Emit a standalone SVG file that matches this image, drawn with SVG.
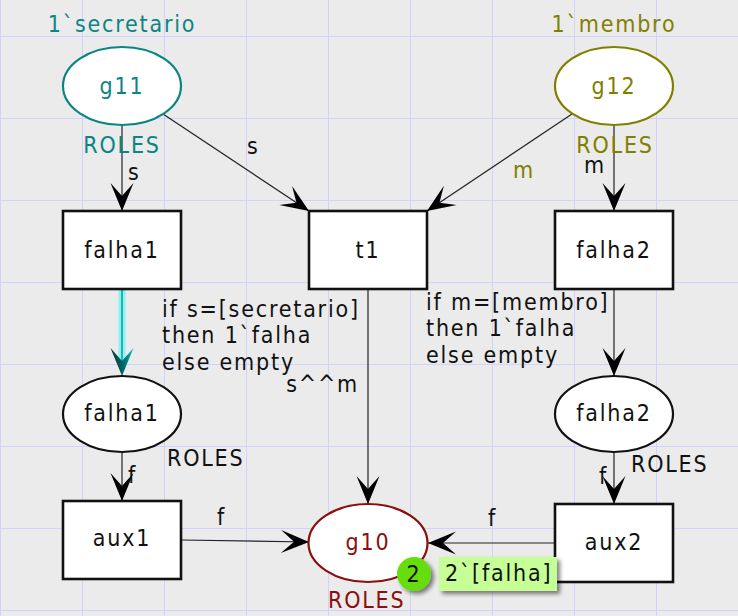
<svg xmlns="http://www.w3.org/2000/svg" width="738" height="616" viewBox="0 0 738 616">
<style>
text{font-family:"DejaVu Sans Condensed","DejaVu Sans","Liberation Sans",sans-serif;font-stretch:condensed;font-size:23px;letter-spacing:1.8px;fill:#111}
.m{text-anchor:middle}
.grid line{stroke:#d2d2ff;stroke-width:1}
.place{fill:#fff;stroke-width:2.2}
.trans{fill:#fff;stroke:#111;stroke-width:2.6}
.arc{stroke:#222;stroke-width:1.2;fill:none;marker-end:url(#ah)}
.teal{fill:#0a8585}.olive{fill:#808000}.red{fill:#8a0f0f}
</style>
<defs>
<marker id="ah" viewBox="-30 -13 31 26" refX="0" refY="0" markerWidth="31" markerHeight="26" markerUnits="userSpaceOnUse" orient="auto">
<path d="M0,0 L-28,-11.5 L-15,0 L-28,11.5 Z" fill="#000"/>
</marker>
<linearGradient id="cg" x1="0" y1="0" x2="1" y2="0">
<stop offset="0" stop-color="#003a3a"/><stop offset="0.6" stop-color="#006a6a"/><stop offset="1" stop-color="#00c8c8"/>
</linearGradient>
<filter id="sh" x="-20%" y="-20%" width="140%" height="160%">
<feGaussianBlur in="SourceAlpha" stdDeviation="2"/>
<feOffset dx="3" dy="3" result="b"/>
<feComponentTransfer><feFuncA type="linear" slope="0.5"/></feComponentTransfer>
<feMerge><feMergeNode/><feMergeNode in="SourceGraphic"/></feMerge>
</filter>
</defs>
<rect width="738" height="616" fill="#ebebeb"/>
<g class="grid">
<line x1="0.5" y1="0" x2="0.5" y2="616"/><line x1="82.5" y1="0" x2="82.5" y2="616"/><line x1="164.5" y1="0" x2="164.5" y2="616"/><line x1="246.5" y1="0" x2="246.5" y2="616"/><line x1="328.5" y1="0" x2="328.5" y2="616"/><line x1="410.5" y1="0" x2="410.5" y2="616"/><line x1="492.5" y1="0" x2="492.5" y2="616"/><line x1="574.5" y1="0" x2="574.5" y2="616"/><line x1="656.5" y1="0" x2="656.5" y2="616"/>
<line x1="0" y1="36.5" x2="738" y2="36.5"/><line x1="0" y1="118.5" x2="738" y2="118.5"/><line x1="0" y1="200.5" x2="738" y2="200.5"/><line x1="0" y1="282.5" x2="738" y2="282.5"/><line x1="0" y1="364.5" x2="738" y2="364.5"/><line x1="0" y1="446.5" x2="738" y2="446.5"/><line x1="0" y1="528.5" x2="738" y2="528.5"/><line x1="0" y1="610.5" x2="738" y2="610.5"/>
</g>
<g id="connectors">
<line class="arc" x1="122" y1="125" x2="122" y2="211"/>
<line class="arc" x1="163" y1="114" x2="309" y2="211"/>
<line class="arc" x1="572" y1="114" x2="427" y2="211"/>
<line class="arc" x1="614" y1="125" x2="614" y2="211"/>
<line x1="122" y1="290" x2="122" y2="362" stroke="#7af0f0" stroke-width="7" opacity="0.8"/>
<line x1="122" y1="290" x2="122" y2="362" stroke="#18b8b8" stroke-width="2"/>
<path d="M122,376 L110.5,348 L122,361 L133.5,348 Z" fill="url(#cg)"/>
<line class="arc" x1="368" y1="290" x2="368" y2="504"/>
<line class="arc" x1="614" y1="290" x2="614" y2="376"/>
<line class="arc" x1="122" y1="453" x2="122" y2="501"/>
<line class="arc" x1="614" y1="453" x2="614" y2="504"/>
<line class="arc" x1="181" y1="540" x2="309" y2="542"/>
<line class="arc" x1="555" y1="543" x2="428" y2="543"/>
<text x="128" y="180">s</text>
<text x="247" y="154">s</text>
<text x="584" y="173">m</text>
<text x="513" y="178" class="olive">m</text>
<text x="162" y="317">if s=[secretario]</text>
<text x="162" y="343">then 1`falha</text>
<text x="162" y="370">else empty</text>
<text x="359" y="392" text-anchor="end">s^^m</text>
<text x="426" y="310">if m=[membro]</text>
<text x="426" y="336">then 1`falha</text>
<text x="426" y="363">else empty</text>
<text x="128" y="483">f</text>
<text x="599" y="484">f</text>
<text x="217" y="525">f</text>
<text x="488" y="526">f</text>
</g>
<g id="g11">
<ellipse class="place" cx="122" cy="86" rx="59" ry="39" stroke="#0a8585"/>
<text x="122" y="94" class="m teal">g11</text>
<text x="122" y="32" class="m teal">1`secretario</text>
<text x="122" y="153" class="m teal">ROLES</text>
</g>
<g id="g12">
<ellipse class="place" cx="614" cy="86" rx="59" ry="39" stroke="#808000"/>
<text x="614" y="94" class="m olive">g12</text>
<text x="614" y="32" class="m olive">1`membro</text>
<text x="615" y="153" class="m olive">ROLES</text>
</g>
<g id="t_falha1">
<rect class="trans" x="63" y="211" width="118" height="78"/>
<text x="122" y="258" class="m">falha1</text>
</g>
<g id="t1">
<rect class="trans" x="309" y="211" width="118" height="78"/>
<text x="368" y="258" class="m">t1</text>
</g>
<g id="t_falha2">
<rect class="trans" x="555" y="211" width="118" height="78"/>
<text x="614" y="258" class="m">falha2</text>
</g>
<g id="p_falha1">
<ellipse class="place" cx="122" cy="414" rx="59" ry="38" stroke="#111"/>
<text x="122" y="421" class="m">falha1</text>
<text x="167" y="466">ROLES</text>
</g>
<g id="p_falha2">
<ellipse class="place" cx="614" cy="414" rx="59" ry="38" stroke="#111"/>
<text x="614" y="421" class="m">falha2</text>
<text x="631" y="472">ROLES</text>
</g>
<g id="aux1">
<rect class="trans" x="63" y="501" width="118" height="78"/>
<text x="122" y="546" class="m">aux1</text>
</g>
<g id="aux2">
<rect class="trans" x="555" y="504" width="118" height="78"/>
<text x="614" y="550" class="m">aux2</text>
</g>
<g id="g10">
<ellipse class="place" cx="368" cy="543" rx="59.5" ry="39" stroke="#8a0f0f"/>
<text x="368" y="550" class="m red">g10</text>
<text x="328" y="608" class="red">ROLES</text>
</g>
<g id="token">
<circle cx="414" cy="574" r="17" fill="#66dd11" filter="url(#sh)"/>
<text x="414" y="582" class="m">2</text>
<rect x="439" y="557" width="118" height="34" fill="#c6ff96" filter="url(#sh)"/>
<text x="445" y="581">2`[falha]</text>
</g>
</svg>
